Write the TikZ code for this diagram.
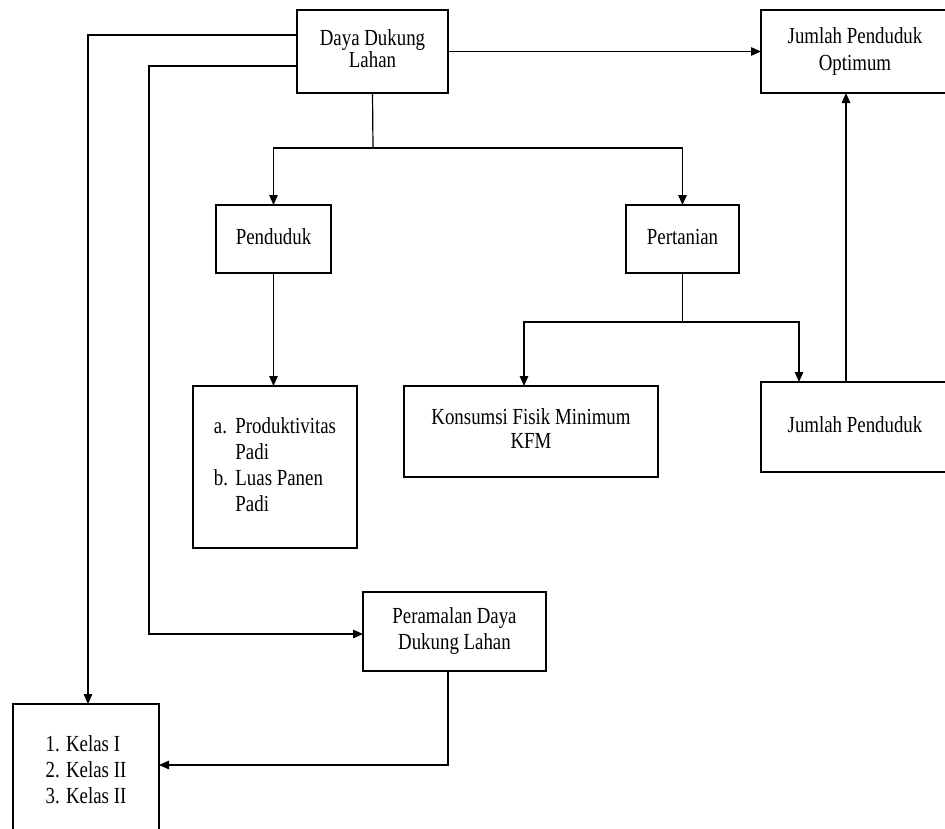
\documentclass[tikz,border=0pt]{standalone}
\usepackage{fontspec}
\usepackage{graphicx}
\setmainfont{Liberation Serif}
\usetikzlibrary{arrows.meta}
\newcommand{\sqtext}[2][@{}c@{}]{\scalebox{0.82}[1]{\begin{tabular}{#1}#2\end{tabular}}}
\begin{document}
\begin{tikzpicture}[x=1pt,y=-1pt,
  box/.style={draw, line width=1.2pt, inner sep=0pt, outer sep=0pt, align=center, font=\fontsize{23}{26}\selectfont},
  arr/.style={-{Triangle[length=10pt,width=8.5pt]}, line width=1.2pt},
  ln/.style={line width=1.2pt}]
\useasboundingbox (0,0) rectangle (945,828);
\clip (0,0) rectangle (945,828);

\node[box, minimum width=151pt, minimum height=83pt, font=\fontsize{23}{20}\selectfont] (daya) at (372.5,51.5) {\sqtext{Daya Dukung\\Lahan}};
\node[box, minimum width=188pt, minimum height=83pt, font=\fontsize{23}{27}\selectfont] (opt) at (855,51.5) {\sqtext{Jumlah Penduduk\\Optimum}};
\node[box, minimum width=115pt, minimum height=68pt] (pend) at (273.5,239) {\sqtext{Penduduk}};
\node[box, minimum width=113pt, minimum height=68pt] (pert) at (682.5,239) {\sqtext{Pertanian}};
\node[box, minimum width=164pt, minimum height=162pt] (prod) at (275,467) {%
  \sqtext[@{}l@{\hspace{9pt}}l@{}]{a.&Produktivitas\\ &Padi\\ b.&Luas Panen\\ &Padi}};
\node[box, minimum width=254pt, minimum height=91pt, font=\fontsize{23}{24}\selectfont] (kfm) at (531,431.5) {\sqtext{Konsumsi Fisik Minimum\\KFM}};
\node[box, minimum width=188pt, minimum height=90pt] (jp) at (855,427) {\sqtext{Jumlah Penduduk}};
\node[box, minimum width=183pt, minimum height=79pt] (per) at (454.5,631.5) {\raisebox{6pt}{\sqtext{Peramalan Daya\\Dukung Lahan}}};
\node[box, minimum width=146pt, minimum height=136pt] (kelas) at (86,772) {\sqtext[@{}l@{}]{1. Kelas I\\2. Kelas II\\3. Kelas II}};

\coordinate (a1) at (88,35);
\draw[arr] (a1 -| daya.west) -- (a1) -- (a1 |- kelas.north);
\coordinate (a2) at (149,66);
\coordinate (a2b) at (149,634);
\draw[arr] (a2 -| daya.west) -- (a2) -- (a2b) -- (a2b -| per.west);
\draw[arr] (daya.east) -- (opt.west);
\coordinate (b1) at (373,148);
\draw[ln] (daya.south) -- (b1);
\draw[arr] (b1) -- (b1 -| pend.north) -- (pend.north);
\draw[arr] (b1) -- (b1 -| pert.north) -- (pert.north);
\draw[arr] (pend.south) -- (pend.south |- prod.north);
\coordinate (c1) at (682.5,322);
\draw[ln] (pert.south) -- (c1);
\coordinate (c2) at (524,322);
\coordinate (c3) at (799,322);
\draw[arr] (c1) -- (c2) -- (c2 |- kfm.north);
\draw[arr] (c1) -- (c3) -- (c3 |- jp.north);
\coordinate (d1) at (846,200);
\draw[arr] (d1 |- jp.north) -- (d1 |- opt.south);
\coordinate (e1) at (448,765);
\draw[arr] (e1 |- per.south) -- (e1) -- (e1 -| kelas.east);
\end{tikzpicture}
\end{document}
